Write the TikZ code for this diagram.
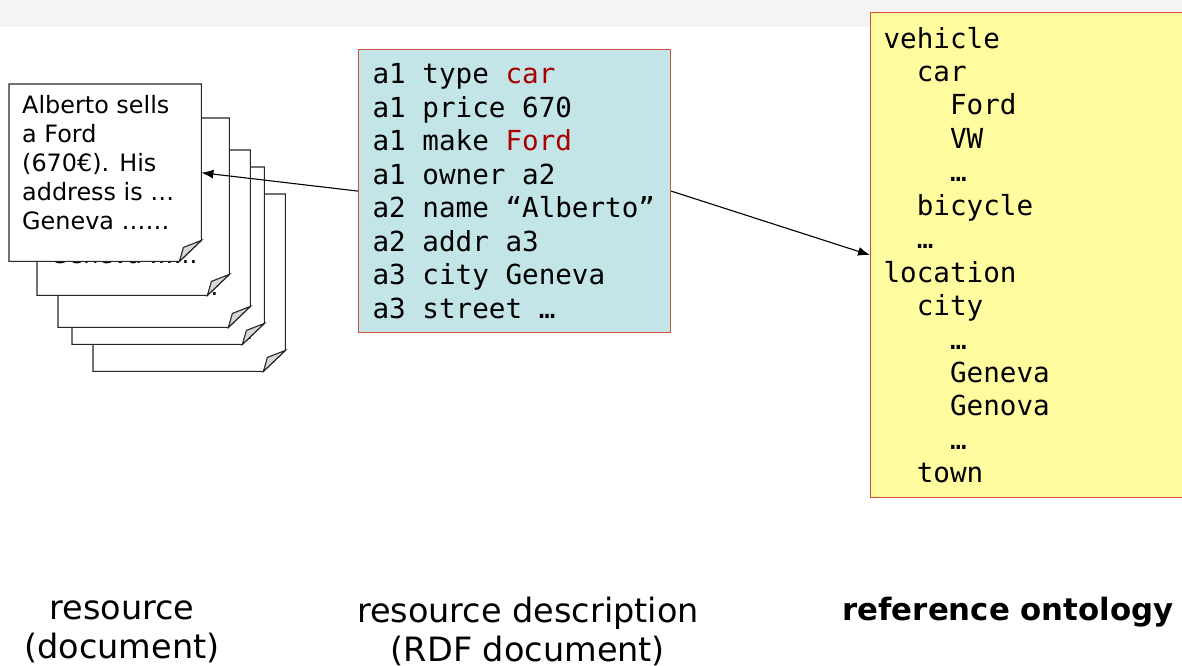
\documentclass[tikz,border=0pt]{standalone}
\usepackage{fontspec}
\setmainfont{DejaVu Sans}
\setmonofont{DejaVu Sans Mono}
\usepackage{tikz}
\usetikzlibrary{arrows.meta, positioning, calc}

\definecolor{boxred}{HTML}{D0503C}
\definecolor{rdfcyan}{HTML}{C4E5E8}
\definecolor{ontoyellow}{HTML}{FFFB9F}
\definecolor{hilite}{HTML}{A80000}
\definecolor{foldgray}{HTML}{D8D8D8}
\definecolor{bandgray}{HTML}{F4F4F4}

\protected\def\tripfont{\ttfamily\fontsize{27.6}{33.45}\selectfont}
\newcommand{\ii}{\hphantom{xx}}
\newcommand{\iiii}{\hphantom{xxxx}}

\begin{document}
\begin{tikzpicture}[x=1pt, y=-1pt,
    page/.style={minimum width=192, minimum height=177, inner sep=0, anchor=north west},
    pageline/.style={draw=black!85, line width=1.1pt, fill=white, line join=miter},
    foldcorner/.style={draw=black!85, line width=1.1pt, fill=foldgray},
    pagetext/.style={anchor=north west, inner sep=0, align=left, font=\fontsize{23.9}{29}\selectfont},
    mono/.style={font=\tripfont, align=flush left},
    conn/.style={line width=1.1pt, -{Latex[length=12pt, width=9pt]}},
    caption/.style={anchor=north, inner sep=0, align=center, font=\fontsize{33.5}{39}\selectfont}]
        \useasboundingbox (0,0) rectangle (1182,665);
        \fill[bandgray] (0,0) rectangle (1182,27);
        % resource documents, back to front
        \foreach \x/\y/\n in {93/194/5, 72/167/4, 58/150/3, 37/118/2, 9/84/1} {
            \node[page] (doc\n) at (\x,\y) {};
            \filldraw[pageline] (doc\n.north west) -- (doc\n.north east) -- ([yshift=21]doc\n.south east)
                -- ([xshift=-22]doc\n.south east) -- (doc\n.south west) -- cycle;
            \filldraw[foldcorner] ([yshift=21]doc\n.south east) -- ([xshift=-18, yshift=14]doc\n.south east)
                -- ([xshift=-22]doc\n.south east) -- cycle;
            \node[pagetext] (txt\n) at ([xshift=13, yshift=-11]doc\n.north west)
                {Alberto sells\\a Ford\\(670€). His\\address is …\\Geneva ……};
        }
        % RDF description
        \node[mono, draw=boxred, line width=1.2pt, fill=rdfcyan, anchor=north west, text width=284,
              inner xsep=14, minimum height=283] (rdf) at (358,49)
            {a1 type \textcolor{hilite}{car}\\a1 price 670\\a1 make \textcolor{hilite}{Ford}\\a1 owner a2\\
             a2 name “Alberto”\\a2 addr a3\\a3 city Geneva\\a3 street …};
        % reference ontology
        \node[mono, draw=boxred, line width=1.2pt, fill=ontoyellow, anchor=north west, text width=310,
              inner xsep=13, minimum height=485] (onto) at (870,12)
            {vehicle\\\ii car\\\iiii Ford\\\iiii VW\\\iiii …\\\ii bicycle\\\ii …\\location\\\ii city\\
             \iiii …\\\iiii Geneva\\\iiii Genova\\\iiii …\\\ii town};
        % connectors
        \draw[conn] (rdf.west) -- (doc1.east);
        \draw[conn] (rdf.east) -- (onto.west);
        % captions
        \node[caption] (capres) at (122,601) {resource\\(document)};
        \node[caption] (capdesc) at (528,597) {resource description\\(RDF document)};
        \node[caption, font=\bfseries\fontsize{30.8}{39}\selectfont] (caponto) at (1008,597) {reference ontology};
    \end{tikzpicture}
\end{document}
